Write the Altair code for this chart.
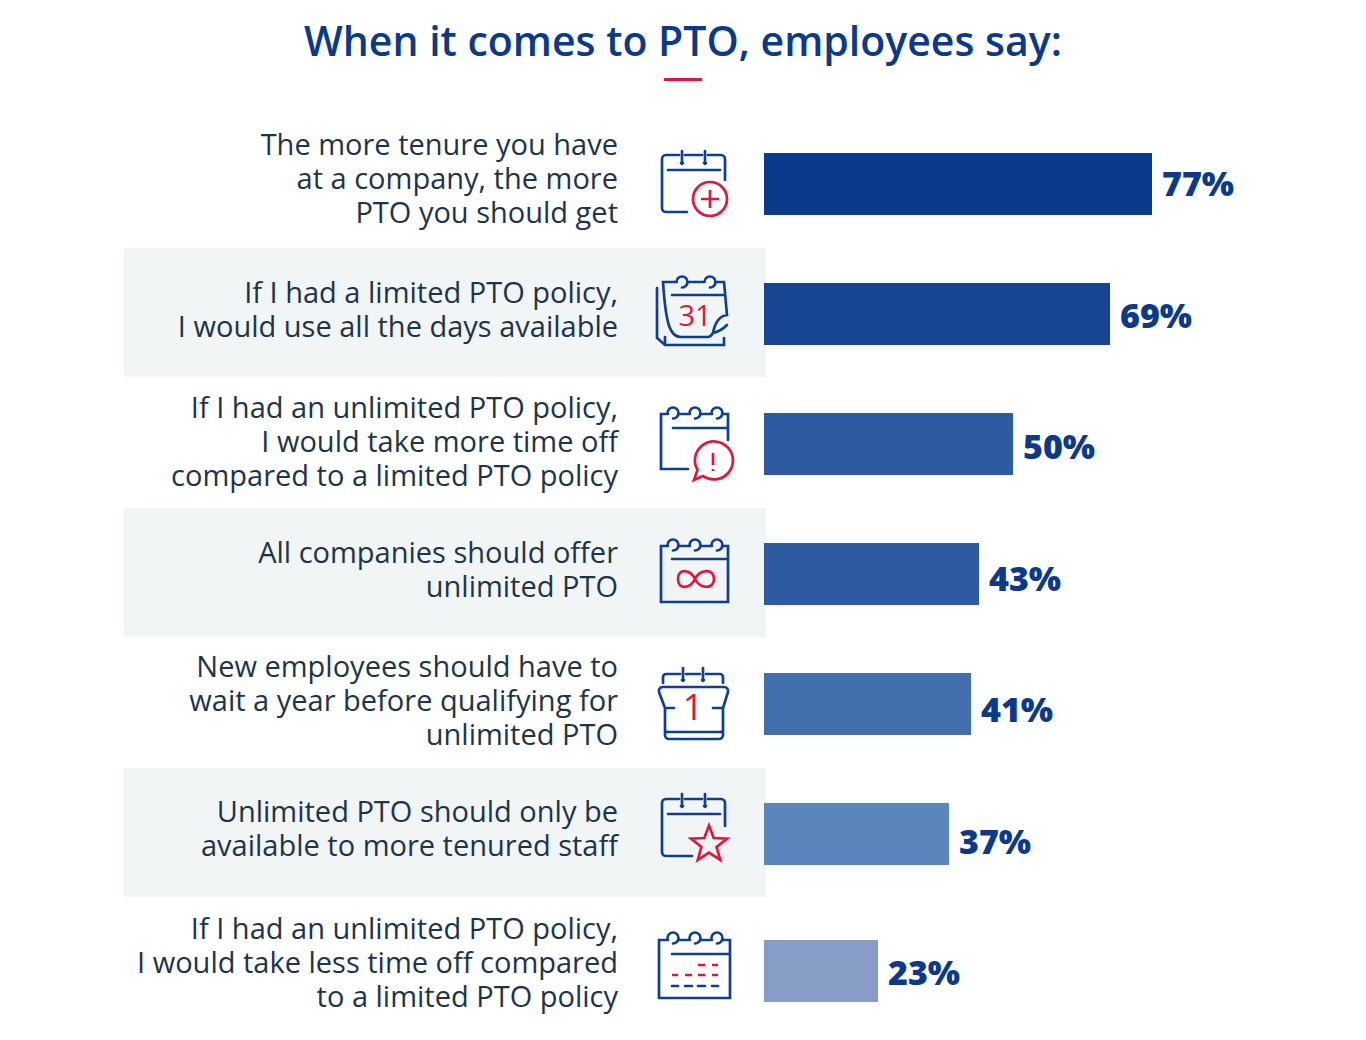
import altair as alt
import pandas as pd

title = "When it comes to PTO, employees say:"
ranks = [1, 2, 3, 4, 5, 6, 7]
statements = [
    "The more tenure you have\nat a company, the more\nPTO you should get",
    "If I had a limited PTO policy,\nI would use all the days available",
    "If I had an unlimited PTO policy,\nI would take more time off\ncompared to a limited PTO policy",
    "All companies should offer\nunlimited PTO",
    "New employees should have to\nwait a year before qualifying for\nunlimited PTO",
    "Unlimited PTO should only be\navailable to more tenured staff",
    "If I had an unlimited PTO policy,\nI would take less time off compared\nto a limited PTO policy",
]
values = [77, 69, 50, 43, 41, 37, 23]
bar_colors = ["#0b398b", "#174592", "#2e5aa2", "#2e5aa2", "#446fad", "#5a85bd", "#889dc6"]
shaded_rows = [2, 4, 6]


def ring(cx, cy, r=5.5):
    return f"M{cx - r},{cy}A{r},{r} 0 1 1 {cx},{cy + r}"


def pin(cx, y0, y1):
    return f"M{cx},{y0}V{y1}M{cx - 1},{y1 - 1}H{cx + 1}"


icon_blue = [
    "M31,-4V-25A4,4 0 0 0 27,-29H14M8,-29H-9M-15,-29H-28A4,4 0 0 0 -32,-25V24A4,4 0 0 0 -28,28H-7"
    + pin(-12, -33, -20) + pin(11, -33, -20) + "M-26,-14H26",
    "M21,-32H30L33,1C26,2 21,8 19,19C17,22 16,23 14,23H-13C-23,23 -28,14 -31,-32H-17M-7,-32H10"
    + ring(-12, -32) + ring(16, -32) + "M-22,-19H29M19,19C24,18 28,16 33,11"
    "M-37,-26V24L-29,31H30V24M-29,31V23",
    "M34,-4V-30H28M18,-30H6M-4,-30H-16M-26,-30H-33V25H-6M-21,-16H34"
    + ring(-21, -31) + ring(1, -31) + ring(23, -31),
    "M-16,-28H-4M6,-28H18M28,-28H34V28H-33V-28H-26M-22,-15H34"
    + ring(-21, -29) + ring(1, -29) + ring(23, -29),
    "M-31,-21V-27A3,3 0 0 1 -28,-30H-14M-8,-30H6M12,-30H26A3,3 0 0 1 29,-27V-21"
    + pin(-11, -36, -23) + pin(9, -36, -23)
    + "M-32,-17H30A4,4 0 0 1 34,-12L29,4V31A4,4 0 0 1 25,35H-25A4,4 0 0 1 -29,31V4L-35,-12A4,4 0 0 1 -32,-17Z"
    "M-29,4H-20M29,4H19M-29,27C-28,28 -27,28 -25,28H25C27,28 28,28 29,27",
    "M31,-8V-31A4,4 0 0 0 27,-35H14M8,-35H-9M-15,-35H-28A4,4 0 0 0 -32,-31V18A4,4 0 0 0 -28,22H-2"
    + pin(-12, -40, -27) + pin(11, -40, -27) + "M-26,-20H26",
    "M-35,27V-31H-26M-16,-31H-4M6,-31H18M28,-31H36V27H-35M-22,-17H36"
    + ring(-21, -33) + ring(1, -33) + ring(23, -33)
    + "M-22,15H-16M-9,15H-2M4,15H11M18,15H24",
]
icon_red = [
    "M33,15A17,17 0 1 1 -1,15A17,17 0 1 1 33,15ZM7,15H25M16,6V24",
    "M0,0Z",
    "M3.5,26A19,19 0 1 1 9,32L0,36ZM19,9V21M19,25V27",
    "M1,5C-4,-5 -16,-6 -16,5C-16,16 -4,15 1,5C6,-5 20,-6 20,5C20,16 6,15 1,5Z",
    "M0,0Z",
    "M15,-8.5L19.7,4L33,4.6L22.6,13L26.2,25.9L15,18.5L3.8,25.9L7.4,13L-3,4.6L10.3,4Z",
    "M4,-6H11M18,-6H24M-22,4H-16M-9,4H-2M4,4H11M18,4H24",
]

rows = pd.DataFrame({
    "rank": ranks, "statement": statements, "value": values,
    "color": bar_colors, "blue": icon_blue, "red": icon_red,
})
rows["pct"] = rows["value"].astype(str) + "%"

BLUE = "#0b398b"
RED = "#e0173a"

bar_y = alt.Y("rank:Q", axis=None,
              scale=alt.Scale(domain=[1, 6, 7], range=[96, 746, 883], padding=0))
text_y = alt.Y("rank:Q", axis=None,
               scale=alt.Scale(domain=ranks, range=[58, 206, 321, 466, 580, 725, 842]))
value_y = alt.Y("rank:Q", axis=None,
                scale=alt.Scale(domain=ranks, range=[98, 230, 361, 493, 624, 756, 887]))
x = alt.X("value:Q", axis=None,
          scale=alt.Scale(domain=[0, 23, 37, 41, 43, 50, 69, 77],
                          range=[756, 870, 941, 963, 971, 1005, 1102, 1144], padding=0))

bands = (
    alt.Chart(pd.DataFrame({"rank": shaded_rows}))
    .mark_bar(orient="horizontal", size=129, yOffset=-1.5, color="#f1f5f6")
    .encode(x=alt.value(116), x2=alt.value(758), y=bar_y)
)
bars = (
    alt.Chart(rows)
    .mark_bar(orient="horizontal", size=62)
    .encode(x=x, y=bar_y, color=alt.Color("color:N", scale=None))
)
labels = (
    alt.Chart(rows)
    .mark_text(align="right", baseline="middle", font="Open Sans", fontSize=29,
               lineHeight=34, lineBreak="\n", color="#1e3449")
    .encode(x=alt.value(610), y=text_y, text="statement:N")
)
pcts = (
    alt.Chart(rows)
    .mark_text(align="left", baseline="middle", dx=10, font="Open Sans", fontSize=34,
               fontWeight=800, color=BLUE)
    .encode(x=x, y=value_y, text="pct:N")
)
icons_b = (
    alt.Chart(rows)
    .mark_point(filled=False, size=4, stroke="#0f3f94", strokeWidth=2.7, opacity=1, strokeCap="round")
    .encode(x=alt.value(686), y=bar_y, shape=alt.Shape("blue:N", scale=None))
)
icons_r = (
    alt.Chart(rows)
    .mark_point(filled=False, size=4, stroke=RED, strokeWidth=2.7, opacity=1)
    .encode(x=alt.value(686), y=bar_y, shape=alt.Shape("red:N", scale=None))
)
date_31 = (
    alt.Chart(pd.DataFrame({"rank": [2], "t": ["31"]}))
    .mark_text(font="Open Sans", fontSize=29, color=RED, baseline="middle", dy=3)
    .encode(x=alt.value(687), y=bar_y, text="t:N")
)
date_1 = (
    alt.Chart(pd.DataFrame({"rank": [5], "t": ["1"]}))
    .mark_text(font="Open Sans", fontSize=36, color=RED, baseline="middle", dy=5)
    .encode(x=alt.value(685), y=bar_y, text="t:N")
)
underline = (
    alt.Chart(pd.DataFrame({"k": [0]}))
    .mark_rule(color=RED, strokeWidth=3)
    .encode(x=alt.value(656), x2=alt.value(694), y=alt.value(-8.5))
)

chart = (
    alt.layer(bands, bars, icons_b, icons_r, date_31, date_1, labels, pcts, underline)
    .resolve_scale(y="independent")
    .properties(
        width=1350, height=944, autosize="none",
        padding={"left": 0, "top": 80, "right": 0, "bottom": 0},
        title=alt.TitleParams(title, font="Open Sans", fontSize=41, fontWeight=600,
                              color=BLUE, anchor="middle", offset=13),
    )
    .configure_view(stroke=None)
)
chart.save("out.html", embed_options={"renderer": "svg", "actions": False})
